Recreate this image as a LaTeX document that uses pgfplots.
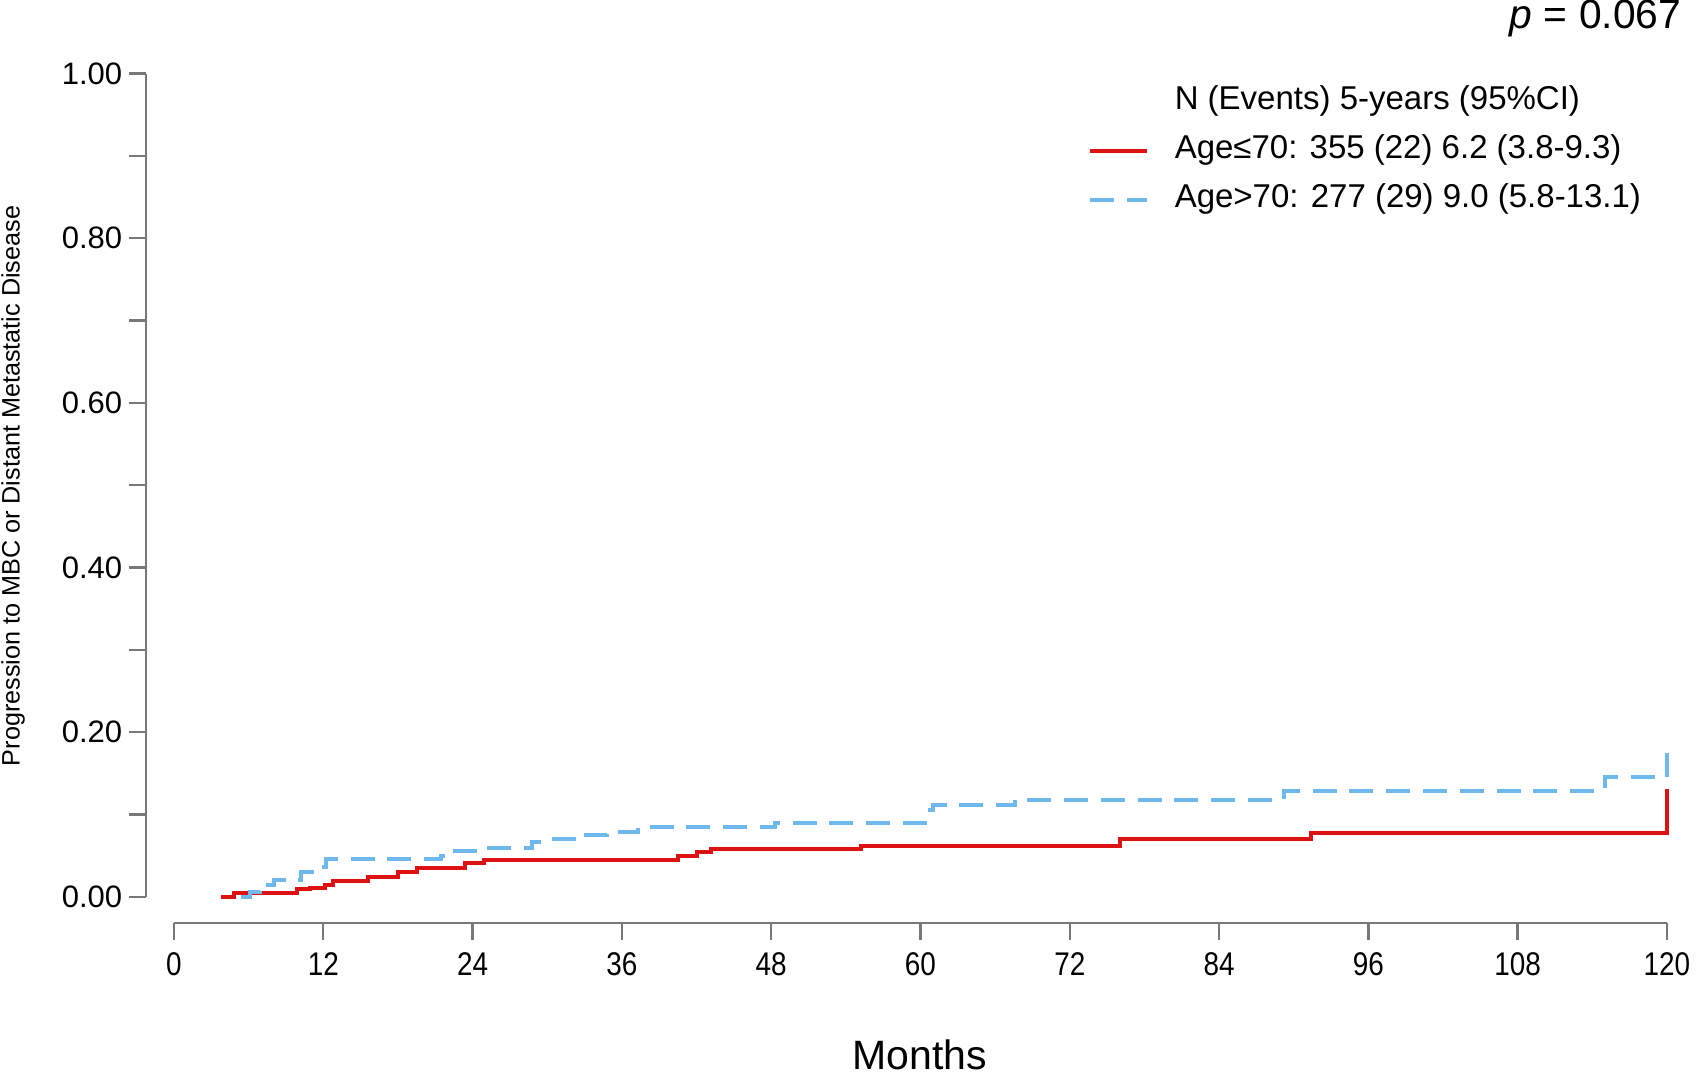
\documentclass[border=0pt]{standalone}
\usepackage{fontspec}
\setmainfont{Liberation Sans}
\usepackage{graphicx}
\usepackage{pgfplots}
\pgfplotsset{compat=1.18}
\definecolor{kmred}{RGB}{222,18,18}
\definecolor{kmblue}{RGB}{110,185,235}
\definecolor{axgray}{RGB}{120,120,120}
\begin{document}
\begin{tikzpicture}
\path[use as bounding box] (-43.5pt,-44.575pt) rectangle (380.5pt,224.175pt);
\begin{axis}[
  scale only axis,
  width=373.25pt, height=205.8pt,
  xmin=0, xmax=120, ymin=0, ymax=1,
  clip=false,
  axis x line*=bottom, axis y line*=left,
  axis x line shift=6.5pt, axis y line shift=7pt,
  axis line style={axgray, line width=0.6pt, -},
  every tick/.style={axgray, line width=0.6pt},
  tick align=outside,
  xtick={0,12,...,120},
  ytick={0,0.2,0.4,0.6,0.8,1.0},
  minor ytick={0.1,0.3,0.5,0.7,0.9},
  major tick length=4.25pt, minor tick length=4.25pt,
  yticklabel style={/pgf/number format/fixed, /pgf/number format/fixed zerofill, /pgf/number format/precision=2, /pgf/number format/assume math mode=true},
  yticklabel style={font=\fontsize{7.75}{9}\selectfont, anchor=east, inner sep=0pt, xshift=-1.5pt},
  xticklabel={\scalebox{0.85}[1]{\pgfmathprintnumber[assume math mode=true]{\tick}}},
  xticklabel style={font=\fontsize{8.2}{9}\selectfont, anchor=north, inner sep=0pt, yshift=-3pt},
  legend style={at={(0.6115,0.986)}, anchor=north west, draw=none, fill=none,
    inner sep=0pt, font=\fontsize{8.25}{10}\selectfont, row sep=4.25pt,
    nodes={inner sep=0pt, text height=6pt, text depth=2pt},
    /tikz/every odd column/.append style={column sep=6.5pt}},
  legend cell align=left,
  legend image code/.code={\draw[#1] (0pt,0pt) -- (14.25pt,0pt);},
]
\addlegendimage{empty legend}
\addlegendentry{N (Events) 5-years (95\%CI)}
\addplot[const plot, kmred, line width=1pt] coordinates {
(3.8,0) (4.8,0.005) (9.9,0.009) (10.9,0.011) (12.1,0.014) (12.8,0.019)
(15.6,0.024) (18.0,0.030) (19.5,0.035) (23.4,0.041) (24.9,0.045)
(40.5,0.049) (42.0,0.054) (43.2,0.058) (55.2,0.062) (76.0,0.070)
(91.4,0.077) (120,0.077) (120,0.131)};
\addlegendentry{Age≤70: 355 (22) 6.2 (3.8-9.3)}
\addplot[const plot, kmblue, line width=1pt, dash pattern=on 6pt off 3.2pt] coordinates {
(5.4,0) (6.1,0.006) (6.9,0.014) (8.0,0.020) (10.2,0.030) (11.4,0.036)
(12.2,0.046) (21.5,0.050) (22.6,0.056) (24.5,0.059) (28.8,0.067)
(29.8,0.070) (32.5,0.075) (34.8,0.079) (37.3,0.085) (48.3,0.090)
(60.4,0.105) (61.0,0.111) (67.6,0.118) (89.2,0.129) (115,0.145)
(120,0.145) (120,0.187)};
\addlegendentry{Age>70: 277 (29) 9.0 (5.8-13.1)}
\end{axis}
\node[rotate=90, font=\fontsize{6.3}{7}\selectfont] at (-40.25pt,102.675pt) {Progression to MBC or Distant Metastatic Disease};
\node[font=\fontsize{10.25}{12}\selectfont] at (186.5pt,-39.6pt) {Months};
\node[anchor=east, inner sep=0pt, font=\fontsize{10.2}{12}\selectfont] at (377pt,219.575pt) {\textit{p} = 0.067};
\end{tikzpicture}
\end{document}
